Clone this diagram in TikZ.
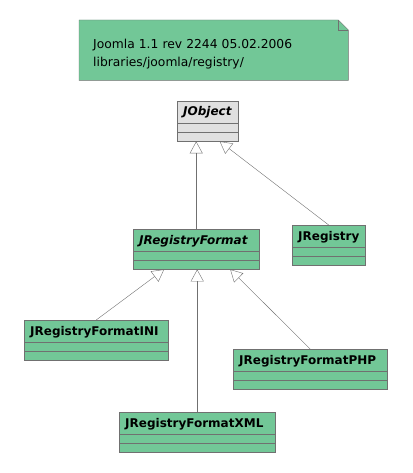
\documentclass[tikz,border=0pt]{standalone}
\usepackage{fontspec}
\setmainfont{DejaVu Sans}
\usetikzlibrary{arrows.meta,positioning,calc,backgrounds}
\definecolor{umlgreen}{RGB}{114,199,151}
\definecolor{umlgray}{RGB}{224,224,224}
\definecolor{umlline}{RGB}{112,112,112}
\begin{document}
\begin{tikzpicture}[x=1pt,y=-1pt,font=\fontsize{12.3}{17.5}\selectfont,
  classbox/.style={draw=umlline,fill=umlgreen,anchor=north west,inner sep=0pt,minimum height=40pt},
  classname/.style={anchor=base west,inner sep=0pt,font=\fontsize{12}{14}\selectfont\bfseries},
  inherit/.style={draw=umlline,-{Triangle[open,length=12pt,width=13pt]}}]
\useasboundingbox (0,0) rectangle (412,473);
% note
\node[anchor=north west,minimum width=269pt,minimum height=60pt,text width=241pt,
  inner xsep=14pt,align=left] (note) at (79,20)
  {\rule{0pt}{17pt}Joomla 1.1 rev 2244 05.02.2006\\libraries/joomla/registry/};
\begin{scope}[on background layer]
\filldraw[draw=umlline,fill=umlgreen] (note.north west) -- ([xshift=-10pt]note.north east)
  -- ([yshift=-10pt]note.north east) -- (note.south east) -- (note.south west) -- cycle;
\draw[umlline] ([xshift=-10pt]note.north east) |- ([yshift=-10pt]note.north east);
\end{scope}
% classes
\node[classbox,fill=umlgray,minimum width=61pt] (jobject) at (177,101) {};
\node[classbox,minimum width=126pt] (jregformat) at (133,229) {};
\node[classbox,minimum width=73pt] (jregistry) at (292,225) {};
\node[classbox,minimum width=144pt] (ini) at (24,320) {};
\node[classbox,minimum width=154pt] (php) at (233,349) {};
\node[classbox,minimum width=156pt] (xml) at (119,412) {};
\node[classname] (jobject-name) at ([xshift=6pt,yshift=-15pt]jobject.north west) {\itshape JObject};
\node[classname] (jregformat-name) at ([xshift=6pt,yshift=-15pt]jregformat.north west) {\itshape JRegistryFormat};
\node[classname] (jregistry-name) at ([xshift=6pt,yshift=-15pt]jregistry.north west) {JRegistry};
\node[classname] (ini-name) at ([xshift=6pt,yshift=-15pt]ini.north west) {JRegistryFormatINI};
\node[classname] (php-name) at ([xshift=6pt,yshift=-15pt]php.north west) {JRegistryFormatPHP};
\node[classname] (xml-name) at ([xshift=6pt,yshift=-15pt]xml.north west) {JRegistryFormatXML};
\foreach \c in {jobject,jregformat,jregistry,ini,php,xml}
  \draw[umlline] ([yshift=-22pt]\c.north west) -- ([yshift=-22pt]\c.north east)
    ([yshift=-31pt]\c.north west) -- ([yshift=-31pt]\c.north east);
% generalizations
\draw[inherit] (jregformat.north) -- (jregformat.north |- jobject.south);
\draw[inherit] (jregistry.north) -- ([xshift=12pt]jobject.south);
\draw[inherit] (ini.north) -- ([xshift=-32pt]jregformat.south);
\draw[inherit] (xml.north) -- (xml.north |- jregformat.south);
\draw[inherit] (php.north) -- ([xshift=34pt]jregformat.south);
\end{tikzpicture}
\end{document}
